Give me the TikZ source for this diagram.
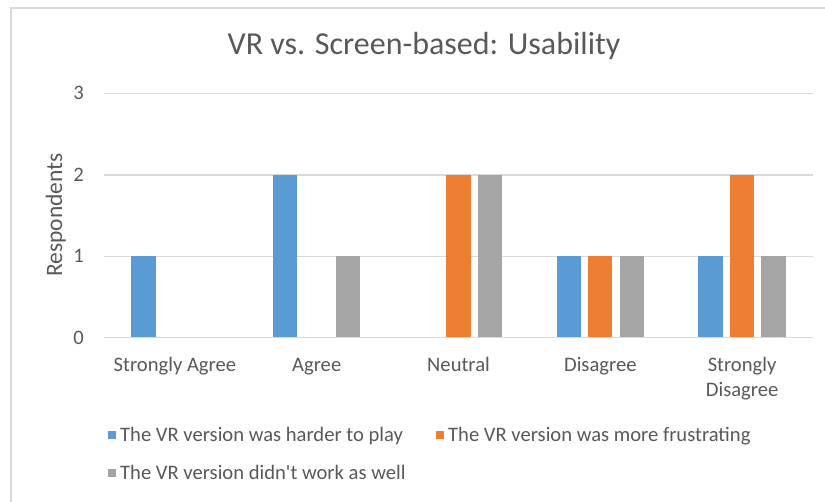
\documentclass[tikz,border=0pt]{standalone}
\usepackage{fontspec}
\setmainfont{Carlito}[Ligatures=TeXOff]
\definecolor{serA}{HTML}{5B9BD5}
\definecolor{serB}{HTML}{ED7D31}
\definecolor{serC}{HTML}{A5A5A5}
\definecolor{txt}{HTML}{595959}
\definecolor{grid}{HTML}{D9D9D9}
\definecolor{frame}{HTML}{D9D9D9}
\tikzset{
  lbl/.style={text=txt, inner sep=0pt, font=\fontsize{20.6}{25}\selectfont},
  ttl/.style={text=txt, inner sep=0pt, font=\fontsize{32}{38}\selectfont},
  gridln/.style={draw=grid, line width=1.5pt},
  legbox/.style={minimum width=8pt, minimum height=8pt, inner sep=0pt, draw=none}
}
\newcommand{\yv}[1]{337.7-81.4*#1}
\begin{document}
\begin{tikzpicture}[x=1pt,y=-1pt]
\useasboundingbox (0,0) rectangle (825,502);
\fill[white] (0,0) rectangle (825,502);
\draw[frame, line width=2pt] (11,502) -- (11,8) -- (825,8);
% title
\node[ttl, anchor=base] (title) at (424,55) {VR vs. Screen-based: Usability};
% gridlines and tick labels
\foreach \v in {0,1,2,3}{
  \draw[gridln] (104,{\yv{\v}}) -- (813,{\yv{\v}});
  \node[lbl, anchor=base east] (tick\v) at (84,{\yv{\v}+6.5}) {\v};
}
\node[lbl, rotate=90, anchor=base, font=\fontsize{23.5}{28}\selectfont] (ylabel) at (62,215) {Respondents};
% bars
\foreach \i/\a/\b/\c in {0/1/0/0, 1/2/0/1, 2/0/2/2, 3/1/1/1, 4/1/2/1}{
  \pgfmathsetmacro{\cx}{174.9+141.8*\i}
  \ifnum\a>0 \fill[serA] ({\cx-31.5-12.15},337) rectangle ({\cx-31.5+12.15},{\yv{\a}}); \fi
  \ifnum\b>0 \fill[serB] ({\cx-12.15},337) rectangle ({\cx+12.15},{\yv{\b}}); \fi
  \ifnum\c>0 \fill[serC] ({\cx+31.5-12.15},337) rectangle ({\cx+31.5+12.15},{\yv{\c}}); \fi
}
% category labels
\node[lbl, anchor=base] (catSA) at (174.9,372) {Strongly Agree};
\node[lbl, anchor=base] (catA) at (316.7,372) {Agree};
\node[lbl, anchor=base] (catN) at (458.5,372) {Neutral};
\node[lbl, anchor=base] (catD) at (600.3,372) {Disagree};
\node[lbl, anchor=base, align=center] (catSD) at (742.1,397) {Strongly\\Disagree};
% legend
\node[legbox, fill=serA] (kA) at (112,435) {};
\node[lbl, anchor=base west] (tA) at (120,442) {The VR version was harder to play};
\node[legbox, fill=serB] (kB) at (440,435) {};
\node[lbl, anchor=base west] (tB) at (448,442) {The VR version was more frustrating};
\node[legbox, fill=serC] (kC) at (112,473) {};
\node[lbl, anchor=base west] (tC) at (120,480) {The VR version didn't work as well};
\end{tikzpicture}
\end{document}
